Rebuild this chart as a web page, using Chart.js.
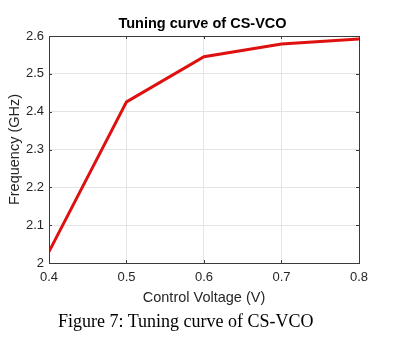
<!DOCTYPE html>
<html>
<head>
<meta charset="utf-8">
<script src="https://cdn.jsdelivr.net/npm/chart.js@4"></script>
<style>
  html, body { margin: 0; padding: 0; background: #ffffff; }
  #wrap { position: relative; width: 405px; height: 340px; overflow: hidden; background: #fff; }
  #c { position: absolute; left: 0; top: 0; }
  #caption { position: absolute; left: 58px; top: 312px; font-family: "Liberation Serif", "Times New Roman", serif; font-size: 18px; line-height: 18px; color: #000; white-space: nowrap; }
</style>
</head>
<body>
<div id="wrap">
  <canvas id="c" width="405" height="340"></canvas>
  <div id="caption">Figure 7: Tuning curve of CS-VCO</div>
</div>
<script>
const controlVoltage = [0.4, 0.5, 0.6, 0.7, 0.8];
const frequencyGHz = [2.03, 2.426, 2.545, 2.579, 2.592];
const xTicks = [0.4, 0.5, 0.6, 0.7, 0.8];
const yTicks = [2.0, 2.1, 2.2, 2.3, 2.4, 2.5, 2.6];

const axisColor = '#3a3a3a';
const gridColor = '#e4e4e4';
const textColor = '#262626';
const sans = '"Liberation Sans", Arial, Helvetica, sans-serif';

const fmt = v => String(Number(Number(v).toFixed(2)));

const boxPlugin = {
  id: 'matlabBox',
  afterDraw(chart) {
    const {ctx, chartArea: a, scales} = chart;
    ctx.save();
    ctx.strokeStyle = axisColor;
    ctx.lineWidth = 1;
    const L = 3;
    ctx.beginPath();
    scales.x.ticks.forEach(t => {
      const px = Math.round(scales.x.getPixelForValue(t.value)) + 0.5;
      ctx.moveTo(px, a.bottom); ctx.lineTo(px, a.bottom - L);
      ctx.moveTo(px, a.top); ctx.lineTo(px, a.top + L);
    });
    scales.y.ticks.forEach(t => {
      const py = Math.round(scales.y.getPixelForValue(t.value)) + 0.5;
      ctx.moveTo(a.left, py); ctx.lineTo(a.left + L, py);
      ctx.moveTo(a.right, py); ctx.lineTo(a.right - L, py);
    });
    ctx.stroke();
    ctx.strokeRect(Math.round(a.left) + 0.5, Math.round(a.top) + 0.5,
                   Math.round(a.right - a.left), Math.round(a.bottom - a.top));
    ctx.restore();
  }
};

new Chart(document.getElementById('c'), {
  type: 'line',
  data: {
    datasets: [{
      data: controlVoltage.map((x, i) => ({x: x, y: frequencyGHz[i]})),
      borderColor: 'rgb(222,16,16)',
      borderWidth: 3,
      pointRadius: 0,
      tension: 0,
      fill: false
    }]
  },
  options: {
    responsive: false,
    animation: false,
    devicePixelRatio: 1,
    layout: { padding: { left: 0, right: 0, top: 0, bottom: 32 } },
    plugins: {
      legend: { display: false },
      tooltip: { enabled: false },
      title: {
        display: true,
        text: 'Tuning curve of CS-VCO',
        color: '#000',
        font: { family: sans, size: 14.5, weight: 'bold' },
        padding: { top: 15.4, bottom: 3.2 }
      }
    },
    scales: {
      x: {
        type: 'linear',
        min: 0.4, max: 0.8,
        afterBuildTicks: s => { s.ticks = xTicks.map(v => ({value: v})); },
        afterFit: s => { s.height = 45; },
        ticks: { callback: fmt, color: textColor, font: { family: sans, size: 13 }, padding: 7, maxRotation: 0 },
        grid: { color: gridColor, drawTicks: false },
        border: { display: false },
        title: { display: true, text: 'Control Voltage (V)', color: textColor, font: { family: sans, size: 14.5 }, padding: { top: 0, bottom: 1.5 } }
      },
      y: {
        type: 'linear',
        min: 2.0, max: 2.6,
        afterBuildTicks: s => { s.ticks = yTicks.map(v => ({value: v})); },
        afterFit: s => { s.width = 49; },
        ticks: { callback: fmt, color: textColor, font: { family: sans, size: 13 }, padding: 5 },
        grid: { color: gridColor, drawTicks: false },
        border: { display: false },
        title: { display: true, text: 'Frequency (GHz)', color: textColor, font: { family: sans, size: 14.5 }, padding: { top: 6.5, bottom: 0 } }
      },
      yRightSpace: {
        type: 'linear',
        position: 'right',
        display: true,
        min: 2.0, max: 2.6,
        afterFit: s => { s.width = 46; },
        ticks: { display: false },
        grid: { display: false, drawTicks: false },
        border: { display: false },
        title: { display: false }
      }
    }
  },
  plugins: [boxPlugin]
});
</script>
</body>
</html>
